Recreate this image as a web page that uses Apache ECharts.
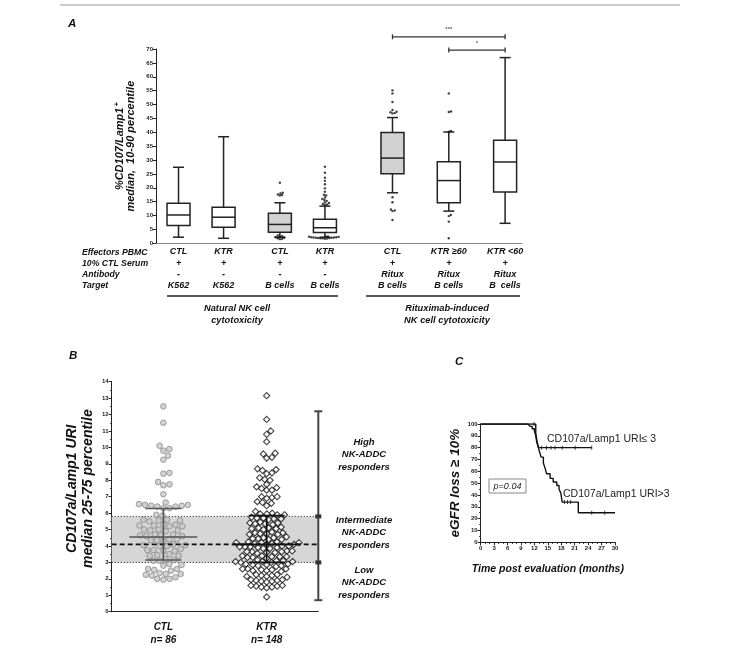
<!DOCTYPE html>
<html>
<head>
<meta charset="utf-8">
<script src="https://cdn.jsdelivr.net/npm/echarts@6/dist/echarts.min.js"></script>
<style>
html, body { margin: 0; padding: 0; background: #fff; }
#main { width: 738px; height: 654px; }
</style>
</head>
<body>
<div id="main"></div>
<script>
// ---- panel A : CD107/Lamp1 box plots (10-90 percentile whiskers)
var slotA = [0, 4, 9, 13, 19, 24, 29];
var effectorsA = ['CTL', 'KTR', 'CTL', 'KTR', 'CTL', 'KTR \u226560', 'KTR <60'];
var serumA = ['+', '+', '+', '+', '+', '+', '+'];
var antibodyA = ['-', '-', '-', '-', 'Ritux', 'Ritux', 'Ritux'];
var targetA = ['K562', 'K562', 'B cells', 'B cells', 'B cells', 'B cells', 'B  cells'];
// [p10, q1, median, q3, p90]
var boxA = [
    [2.2, 6.4, 10.2, 14.4, 27.4],
    [1.8, 5.8, 9.4, 13.0, 38.4],
    [2.2, 4.0, 6.8, 10.8, 14.6],
    [2.2, 3.9, 5.6, 8.7, 13.4],
    [18.2, 25.1, 30.7, 39.9, 45.3],
    [11.6, 14.6, 22.6, 29.4, 40.1],
    [7.2, 18.5, 29.3, 37.1, 66.9]
];
var outliersA = [
    [],
    [],
    [21.8, 18.2, 18.0, 17.6, 17.4, 17.2, 2.8, 2.6, 2.4, 2.2, 2.0, 1.8, 1.6, 1.5],
    [27.6, 25.4, 23.6, 22.5, 21.3, 19.8, 18.6, 17.5, 17.2, 16.5, 16.0, 15.6, 15.3, 14.8, 14.5, 14.2, 14.0, 13.8,
     2.5, 2.4, 2.3, 2.2, 2.1, 2.0, 1.9, 1.8, 1.7, 1.6, 2.2, 2.0, 1.8, 2.4, 2.1, 1.9],
    [55.1, 54.0, 50.9, 48.0, 47.4, 47.2, 46.8, 46.9, 16.6, 14.8, 12.2, 11.8, 11.6, 8.4],
    [54.0, 47.5, 47.3, 40.2, 40.5, 10.2, 9.8, 7.8, 1.8],
    []
];
// [from box, to box, level]
var sigA = [[4, 6, 74.4], [5, 6, 69.6]];
var sigTextA = ['***', '*'];
var shadedA = [2, 4];

// ---- panel B : CD107a/Lamp1 URI
var groupsB = ['CTL', 'KTR'];
var nB = ['n= 86', 'n= 148'];
var ctlURI = [12.5, 11.5, 10.1, 9.9, 9.8, 9.5, 9.25, 8.45, 8.4, 7.9, 7.75, 7.7, 7.15, 6.65,
    6.55, 6.5, 6.5, 6.45, 6.45, 6.4, 6.4, 6.3, 6.3, 5.9, 5.85,
    5.6, 5.6, 5.55, 5.55, 5.5, 5.3, 5.3, 5.25, 5.25, 5.2, 5.2,
    5.0, 5.0, 4.95, 4.95, 4.9, 4.7, 4.7, 4.65, 4.65, 4.6, 4.6,
    4.4, 4.4, 4.35, 4.35, 4.3, 4.1, 4.05, 4.05, 4.0, 4.0,
    3.8, 3.75, 3.75, 3.7, 3.7, 3.5, 3.45, 3.4, 3.4, 3.2, 3.15, 3.1, 3.1,
    2.9, 2.85, 2.8, 2.6, 2.6, 2.55, 2.5, 2.35, 2.3, 2.3, 2.25,
    2.2, 2.1, 2.0, 1.95, 2.0];
var ktrURI = [13.15, 11.7, 11.0, 10.8, 10.35, 9.65, 9.6, 9.4, 9.35, 8.7, 8.65, 8.6, 8.45, 8.4, 8.15, 8.05, 8.0,
    7.75, 7.6, 7.55, 7.5, 7.4, 7.4, 7.0, 6.95, 6.9, 7.0, 6.7, 6.6, 6.65, 6.45, 6.1,
    6.0, 5.95, 5.95, 5.9, 5.9,
    5.75, 5.7, 5.7, 5.65, 5.65, 5.6, 5.45, 5.4, 5.4, 5.35, 5.35, 5.3,
    5.15, 5.1, 5.1, 5.05, 5.05, 5.0, 4.85, 4.8, 4.8, 4.75, 4.75, 4.7, 4.7,
    4.55, 4.5, 4.5, 4.45, 4.45, 4.4, 4.4, 4.25, 4.2, 4.2, 4.15, 4.15, 4.1, 4.1, 4.2, 4.25,
    4.0, 3.95, 3.95, 3.9, 3.9, 3.85, 3.85, 4.0, 3.95, 3.7, 3.65, 3.65, 3.6, 3.6, 3.55, 3.7, 3.65,
    3.4, 3.35, 3.35, 3.3, 3.3, 3.25, 3.4, 3.35, 3.1, 3.05, 3.05, 3.0, 3.0, 3.1, 3.05, 3.15,
    2.9, 2.85, 2.85, 2.8, 2.8, 2.75, 2.9, 2.6, 2.55, 2.55, 2.5, 2.5, 2.6, 2.45, 2.6,
    2.25, 2.2, 2.2, 2.15, 2.15, 2.1, 2.25, 1.95, 1.9, 1.9, 1.85, 1.85, 1.8, 1.95,
    1.6, 1.55, 1.55, 1.5, 1.5, 1.45, 1.6, 0.9];
var medB = [4.55, 4.1];
var q1B = [3.15, 3.0];
var q3B = [6.28, 5.85];
var refBand = [3.0, 4.1, 5.8];          // low cut, median, high cut
var responderCuts = [0.7, 3.0, 5.8, 12.2];

// ---- panel C : Kaplan-Meier
var kmLow = [[0, 100], [12.3, 92], [12.6, 85], [12.9, 80], [24.8, 80]];
var kmHigh = [[0, 100], [10.6, 100], [11.0, 98], [11.5, 96], [12.0, 94], [12.3, 90], [12.5, 85],
    [12.9, 80], [13.1, 77], [13.5, 72], [14.0, 67], [14.4, 62.5], [14.7, 58], [15.5, 54],
    [16.2, 51], [17.0, 48], [17.5, 45], [17.9, 41.5], [18.2, 34], [21.8, 25], [30, 25]];
var censorLow = [[11.9, 100], [13.6, 80], [14.7, 80], [15.7, 80], [16.6, 80], [18.2, 80], [21.1, 80], [24.8, 80]];
var censorHigh = [[18.7, 34], [19.4, 34], [20.1, 34], [24.8, 25], [27.7, 25]];

var FONT = '"Liberation Sans", Arial, sans-serif';
function bi(size, extra) {
    return Object.assign({ fontFamily: FONT, fontWeight: 'bold', fontStyle: 'italic', fontSize: size, color: '#111' }, extra || {});
}
function gtext(x, y, text, size, align) {
    return {
        type: 'text', x: x, y: y,
        style: {
            text: text, font: 'italic bold ' + size + 'px ' + FONT, fill: '#111',
            textAlign: align || 'left', align: align || 'left',
            textVerticalAlign: 'top', verticalAlign: 'top', lineHeight: size * 1.3
        }
    };
}

// simple beeswarm: horizontal pixel offsets so markers of diameter d do not overlap
function swarm(values, pxPerUnit, d) {
    var order = values.map(function (v, i) { return i; })
        .sort(function (a, b) { return values[a] - values[b]; });
    var placed = [];
    var off = [];
    order.forEach(function (i) {
        var y = values[i] * pxPerUnit;
        var cands = [0];
        placed.forEach(function (p) {
            var dy = Math.abs(p.y - y);
            if (dy < d) {
                var w = Math.sqrt(d * d - dy * dy);
                cands.push(p.x + w, p.x - w);
            }
        });
        cands.sort(function (a, b) { return Math.abs(a) - Math.abs(b); });
        var x = 0;
        for (var k = 0; k < cands.length; k++) {
            var ok = true;
            for (var j = 0; j < placed.length; j++) {
                var dx = placed[j].x - cands[k], dy2 = placed[j].y - y;
                if (dx * dx + dy2 * dy2 < d * d - 0.01) { ok = false; break; }
            }
            if (ok) { x = cands[k]; break; }
        }
        placed.push({ x: x, y: y });
        off[i] = x;
    });
    return off;
}

var gridA = { left: 156, top: 49, width: 366, height: 194.3 };
var gridB = { left: 111.7, top: 381.7, width: 206.6, height: 230 };
var gridC = { left: 480.7, top: 424, width: 134.3, height: 118.3 };

var outlierData = [];
outliersA.forEach(function (vals, i) {
    var off = swarm(vals, gridA.height / 70, 2.3);
    vals.forEach(function (v, k) {
        outlierData.push({ value: [slotA[i], v], symbolOffset: [off[k], 0] });
    });
});
function swarmData(vals, cat, d) {
    var off = swarm(vals, gridB.height / 14, d);
    return vals.map(function (v, k) { return { value: [cat, v], symbolOffset: [off[k], 0] }; });
}

var axisLineStyle = { onZero: false, lineStyle: { color: '#222', width: 1 } };
var tickLabel = { fontFamily: FONT, fontWeight: 'bold', fontSize: 6, color: '#222', margin: 3 };

var chart = echarts.init(document.getElementById('main'));

var option = {
    animation: false,
    backgroundColor: '#fff',
    grid: [
        Object.assign({ outerBoundsMode: 'none' }, gridA),
        Object.assign({ outerBoundsMode: 'none' }, gridB),
        Object.assign({ outerBoundsMode: 'none' }, gridC)
    ],
    xAxis: [
        {
            gridIndex: 0, type: 'value', min: -2, max: 30.5, interval: 1,
            axisLine: { onZero: false, lineStyle: { color: '#888', width: 1.2 } },
            axisTick: { show: false }, splitLine: { show: false },
            axisLabel: Object.assign(bi(9), {
                margin: 3, lineHeight: 11.2, showMinLabel: true, showMaxLabel: true,
                formatter: function (v) {
                    var i = slotA.indexOf(v);
                    return i < 0 ? '' : [effectorsA[i], serumA[i], antibodyA[i], targetA[i]].join('\n');
                }
            })
        },
        {
            gridIndex: 1, type: 'category', data: groupsB,
            axisLine: axisLineStyle,
            axisTick: { alignWithLabel: true, length: 3, lineStyle: { color: '#222' } },
            axisLabel: Object.assign(bi(10), {
                margin: 9, lineHeight: 13,
                formatter: function (v, i) { return v + '\n' + nB[i]; }
            })
        },
        {
            gridIndex: 2, type: 'value', min: 0, max: 30, interval: 3,
            axisLine: axisLineStyle, splitLine: { show: false },
            axisTick: { length: 3, lineStyle: { color: '#222' } },
            minorTick: { show: true, splitNumber: 3, length: 1.5, lineStyle: { color: '#222' } },
            axisLabel: tickLabel,
            name: 'Time post evaluation (months)', nameLocation: 'middle', nameGap: 21,
            nameTextStyle: bi(10.5)
        }
    ],
    yAxis: [
        {
            gridIndex: 0, type: 'value', min: 0, max: 70, interval: 5,
            axisLine: { show: true, onZero: false, lineStyle: { color: '#222', width: 1 } },
            axisTick: { show: true, length: 3, lineStyle: { color: '#222' } },
            splitLine: { show: false }, axisLabel: tickLabel,
            name: '%CD107/Lamp1{sup|+}\nmedian,  10-90 percentile',
            nameLocation: 'middle', nameGap: 19,
            nameTextStyle: bi(11, {
                lineHeight: 11.5,
                rich: { sup: bi(7.5, { padding: [0, 0, 6, 1] }) }
            })
        },
        {
            gridIndex: 1, type: 'value', min: 0, max: 14, interval: 1,
            axisLine: { show: true, onZero: false, lineStyle: { color: '#222', width: 1 } },
            axisTick: { show: true, length: 3, lineStyle: { color: '#222' } },
            minorTick: { show: true, splitNumber: 2, length: 1.5, lineStyle: { color: '#222' } },
            splitLine: { show: false }, axisLabel: tickLabel,
            name: 'CD107a/Lamp1 URI\nmedian 25-75 percentile',
            nameLocation: 'middle', nameGap: 16,
            nameTextStyle: bi(14, { lineHeight: 15.5, padding: [0, 0, 0, 16] })
        },
        {
            gridIndex: 2, type: 'value', min: 0, max: 100, interval: 10,
            axisLine: { show: true, onZero: false, lineStyle: { color: '#222', width: 1 } },
            axisTick: { show: true, length: 3, lineStyle: { color: '#222' } },
            minorTick: { show: true, splitNumber: 2, length: 1.5, lineStyle: { color: '#222' } },
            splitLine: { show: false }, axisLabel: tickLabel,
            name: 'eGFR loss \u2265 10%', nameLocation: 'middle', nameGap: 18,
            nameTextStyle: bi(13.5)
        }
    ],
    series: [
        {
            type: 'custom', xAxisIndex: 0, yAxisIndex: 0, z: 3,
            data: boxA.map(function (b, i) { return [slotA[i]].concat(b); }),
            renderItem: function (params, api) {
                var x = api.value(0);
                var p = [1, 2, 3, 4, 5].map(function (k) { return api.coord([x, api.value(k)]); });
                var cx = p[0][0], hw = 11.5, cw = 5.5;
                var ln = { stroke: '#222', lineWidth: 1.5 };
                var shaded = shadedA.indexOf(params.dataIndex) >= 0;
                return {
                    type: 'group', children: [
                        { type: 'line', shape: { x1: cx, y1: p[0][1], x2: cx, y2: p[1][1] }, style: ln },
                        { type: 'line', shape: { x1: cx, y1: p[3][1], x2: cx, y2: p[4][1] }, style: ln },
                        { type: 'line', shape: { x1: cx - cw, y1: p[0][1], x2: cx + cw, y2: p[0][1] }, style: ln },
                        { type: 'line', shape: { x1: cx - cw, y1: p[4][1], x2: cx + cw, y2: p[4][1] }, style: ln },
                        { type: 'rect', shape: { x: cx - hw, y: p[3][1], width: 2 * hw, height: p[1][1] - p[3][1] },
                          style: { fill: shaded ? '#d2d2d2' : '#fff', stroke: '#222', lineWidth: 1.5 } },
                        { type: 'line', shape: { x1: cx - hw, y1: p[2][1], x2: cx + hw, y2: p[2][1] }, style: ln }
                    ]
                };
            }
        },
        {
            type: 'scatter', xAxisIndex: 0, yAxisIndex: 0, z: 4,
            symbol: 'circle', symbolSize: 2.4, itemStyle: { color: '#111' },
            data: outlierData
        },
        {
            type: 'custom', xAxisIndex: 0, yAxisIndex: 0, z: 3, clip: false,
            data: sigA.map(function (s) { return [slotA[s[0]], slotA[s[1]], s[2]]; }),
            renderItem: function (params, api) {
                var a = api.coord([api.value(0), api.value(2)]);
                var b = api.coord([api.value(1), api.value(2)]);
                var ln = { stroke: '#333', lineWidth: 1.3 };
                return {
                    type: 'group', children: [
                        { type: 'line', shape: { x1: a[0], y1: a[1], x2: b[0], y2: b[1] }, style: ln },
                        { type: 'line', shape: { x1: a[0], y1: a[1] - 2.5, x2: a[0], y2: a[1] + 2.5 }, style: ln },
                        { type: 'line', shape: { x1: b[0], y1: b[1] - 2.5, x2: b[0], y2: b[1] + 2.5 }, style: ln },
                        { type: 'text', style: {
                            text: sigTextA[params.dataIndex], x: (a[0] + b[0]) / 2, y: a[1] - 4,
                            textAlign: 'center', align: 'center', textVerticalAlign: 'bottom', verticalAlign: 'bottom',
                            font: 'bold 6px ' + FONT, fill: '#666' } }
                    ]
                };
            }
        },
        {
            // grey 25-75 band with dotted borders
            type: 'custom', xAxisIndex: 1, yAxisIndex: 1, z: 1, silent: true,
            data: [[0].concat(refBand)],
            renderItem: function (params, api) {
                var cs = params.coordSys;
                var lo = api.coord([0, api.value(1)])[1];
                var hi = api.coord([0, api.value(3)])[1];
                var dot = { stroke: '#333', lineWidth: 1, lineDash: [1.2, 1.8] };
                return {
                    type: 'group', children: [
                        { type: 'rect', shape: { x: cs.x, y: hi, width: cs.width, height: lo - hi }, style: { fill: '#d6d6d6' } },
                        { type: 'line', shape: { x1: cs.x, y1: hi, x2: cs.x + cs.width, y2: hi }, style: dot },
                        { type: 'line', shape: { x1: cs.x, y1: lo, x2: cs.x + cs.width, y2: lo }, style: dot }
                    ]
                };
            }
        },
        {
            type: 'scatter', xAxisIndex: 1, yAxisIndex: 1, z: 2,
            symbol: 'circle', symbolSize: 5.6,
            itemStyle: { color: '#c8c8c8', borderColor: '#8a8a8a', borderWidth: 1 },
            data: swarmData(ctlURI, 0, 6.2)
        },
        {
            type: 'scatter', xAxisIndex: 1, yAxisIndex: 1, z: 2,
            symbol: 'diamond', symbolSize: 6.2,
            itemStyle: { color: '#fff', borderColor: '#111', borderWidth: 1.1 },
            data: swarmData(ktrURI, 1, 5.3)
        },
        {
            // dashed median of all
            type: 'custom', xAxisIndex: 1, yAxisIndex: 1, z: 3, silent: true,
            data: [[0, refBand[1]]],
            renderItem: function (params, api) {
                var cs = params.coordSys;
                var y = api.coord([0, api.value(1)])[1];
                return { type: 'line', shape: { x1: cs.x, y1: y, x2: cs.x + cs.width, y2: y },
                    style: { stroke: '#111', lineWidth: 1.8, lineDash: [5, 3] } };
            }
        },
        {
            // median with interquartile range
            type: 'custom', xAxisIndex: 1, yAxisIndex: 1, z: 4,
            data: groupsB.map(function (g, i) { return [i, q1B[i], medB[i], q3B[i]]; }),
            renderItem: function (params, api) {
                var i = api.value(0);
                var a = api.coord([i, api.value(1)]);
                var m = api.coord([i, api.value(2)]);
                var b = api.coord([i, api.value(3)]);
                var col = params.dataIndex === 0 ? '#555' : '#111';
                var ln = { stroke: col, lineWidth: 1.6 };
                var cx = a[0];
                return {
                    type: 'group', children: [
                        { type: 'line', shape: { x1: cx, y1: a[1], x2: cx, y2: b[1] }, style: ln },
                        { type: 'line', shape: { x1: cx - 18, y1: a[1], x2: cx + 18, y2: a[1] }, style: ln },
                        { type: 'line', shape: { x1: cx - 18, y1: b[1], x2: cx + 18, y2: b[1] }, style: ln },
                        { type: 'line', shape: { x1: cx - 34, y1: m[1], x2: cx + 34, y2: m[1] }, style: ln }
                    ]
                };
            }
        },
        {
            // responder scale on the right edge
            type: 'custom', xAxisIndex: 1, yAxisIndex: 1, z: 4, clip: false,
            data: [[1].concat(responderCuts)],
            renderItem: function (params, api) {
                var cs = params.coordSys;
                var x = cs.x + cs.width;
                var ys = [1, 2, 3, 4].map(function (k) { return api.coord([0, api.value(k)])[1]; });
                var ln = { stroke: '#444', lineWidth: 2 };
                return {
                    type: 'group', children: [
                        { type: 'line', shape: { x1: x, y1: ys[0], x2: x, y2: ys[3] }, style: ln },
                        { type: 'line', shape: { x1: x - 4, y1: ys[0], x2: x + 4, y2: ys[0] }, style: ln },
                        { type: 'line', shape: { x1: x - 4, y1: ys[3], x2: x + 4, y2: ys[3] }, style: ln },
                        { type: 'rect', shape: { x: x - 3, y: ys[1] - 2, width: 6, height: 4 }, style: { fill: '#333' } },
                        { type: 'rect', shape: { x: x - 3, y: ys[2] - 2, width: 6, height: 4 }, style: { fill: '#333' } }
                    ]
                };
            }
        },
        {
            type: 'line', xAxisIndex: 2, yAxisIndex: 2, step: 'end', showSymbol: false,
            lineStyle: { color: '#111', width: 1.4 }, data: kmLow
        },
        {
            type: 'line', xAxisIndex: 2, yAxisIndex: 2, step: 'end', showSymbol: false,
            lineStyle: { color: '#111', width: 1.4 }, data: kmHigh
        },
        {
            type: 'scatter', xAxisIndex: 2, yAxisIndex: 2, symbol: 'rect', symbolSize: [1, 4],
            itemStyle: { color: '#111' }, data: censorLow
        },
        {
            type: 'scatter', xAxisIndex: 2, yAxisIndex: 2, symbol: 'rect', symbolSize: [1, 4],
            itemStyle: { color: '#111' }, data: censorHigh
        }
    ],
    graphic: [
        { type: 'line', shape: { x1: 60, y1: 5, x2: 680, y2: 5 }, style: { stroke: '#999', lineWidth: 1 } },
        gtext(68, 16, 'A', 11.5),
        gtext(69, 348, 'B', 11.5),
        gtext(455, 354, 'C', 11.5),
        gtext(82, 246.5, 'Effectors PBMC\n10% CTL Serum\nAntibody\nTarget', 8.7, 'left'),
        { type: 'line', shape: { x1: 167, y1: 296, x2: 338, y2: 296 }, style: { stroke: '#222', lineWidth: 1.3 } },
        { type: 'line', shape: { x1: 366, y1: 296, x2: 520, y2: 296 }, style: { stroke: '#222', lineWidth: 1.3 } },
        gtext(237, 302.5, 'Natural NK cell\ncytotoxicity', 9.3, 'center'),
        gtext(447, 302.5, 'Rituximab-induced\nNK cell cytotoxicity', 9.3, 'center'),
        gtext(364, 436, 'High\nNK-ADDC\nresponders', 9.5, 'center'),
        gtext(364, 514, 'Intermediate\nNK-ADDC\nresponders', 9.5, 'center'),
        gtext(364, 564, 'Low\nNK-ADDC\nresponders', 9.5, 'center'),
        { type: 'rect', shape: { x: 489, y: 479, width: 37, height: 14 }, style: { fill: '#fff', stroke: '#888', lineWidth: 1 } },
        { type: 'text', x: 507.5, y: 486, style: { text: 'p=0.04', font: 'italic 9px ' + FONT, fill: '#222',
            textAlign: 'center', align: 'center', textVerticalAlign: 'middle', verticalAlign: 'middle' } },
        { type: 'text', x: 547, y: 439.5, style: { text: 'CD107a/Lamp1 URI\u2264 3', font: '10.5px ' + FONT, fill: '#222',
            textAlign: 'left', align: 'left', textVerticalAlign: 'middle', verticalAlign: 'middle' } },
        { type: 'text', x: 563, y: 494, style: { text: 'CD107a/Lamp1 URI>3', font: '10.5px ' + FONT, fill: '#222',
            textAlign: 'left', align: 'left', textVerticalAlign: 'middle', verticalAlign: 'middle' } }
    ]
};

chart.setOption(option);
</script>
</body>
</html>
